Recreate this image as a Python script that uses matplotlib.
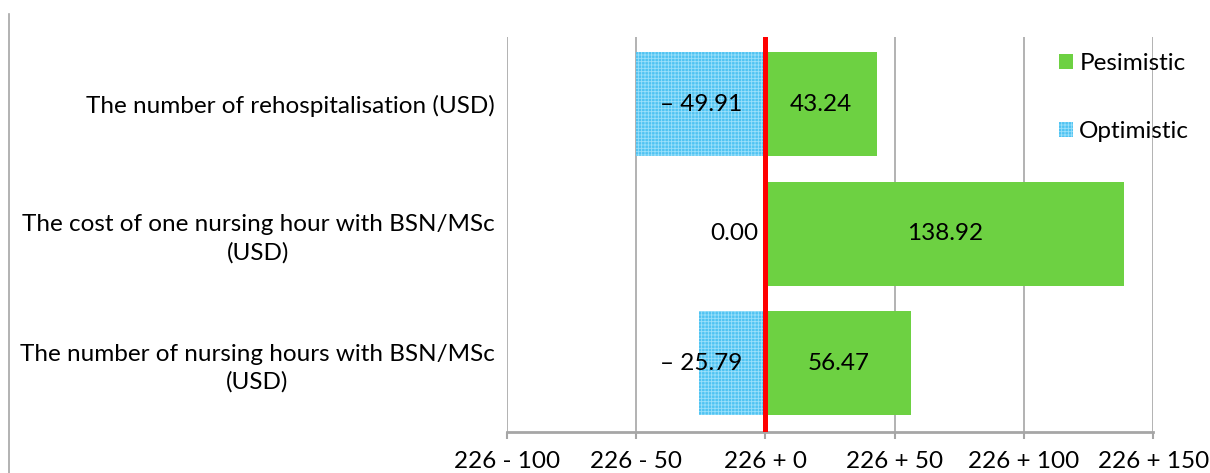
import numpy as np
import matplotlib.pyplot as plt
from matplotlib.lines import Line2D
from matplotlib.patches import Patch

plt.rcParams['font.family'] = ['Lato', 'DejaVu Sans']
plt.rcParams['hatch.linewidth'] = 0.6

categories = ["The number of nursing hours with BSN/MSc\n(USD)",
              "The cost of one nursing hour with BSN/MSc\n(USD)",
              "The number of rehospitalisation (USD)"]
optimistic = [-25.79, 0.00, -49.91]
pesimistic = [56.47, 138.92, 43.24]
base = 226
xticks = [-100, -50, 0, 50, 100, 150]

green = '#6dd142'
blue = '#4fc3f2'
grey = '#a6a6a6'
fs = 17.5

fig = plt.figure(figsize=(12.1, 4.73), dpi=100)
ax = fig.add_axes([0.419, 0.087, 0.534, 0.835])

y = np.arange(len(categories))
ax.barh(y, pesimistic, height=0.8, color=green, zorder=2)
ax.barh(y, optimistic, height=0.8, color=blue, hatch='+++++',
        edgecolor='#9be0fa', linewidth=0, zorder=2)
ax.axvline(0, color='#ff0000', lw=3.6, zorder=4)

for yi, v in zip(y, pesimistic):
    ax.text(v / 2, yi, f"{v:.2f}", ha='center', va='center', fontsize=fs, zorder=5)
for yi, v in zip(y, optimistic):
    txt = f"\u2013 {abs(v):.2f}" if v < 0 else f"{v:.2f}"
    x = v / 2 if abs(v) > 40 else v / 2 - 12
    ax.text(x, yi, txt, ha='center', va='center', fontsize=fs, zorder=5)

ax.set_xlim(-100, 150)
ax.set_ylim(-0.53, 2.52)
ax.set_xticks(xticks)
ax.set_xticklabels([f"{base} {'+' if t >= 0 else '-'} {abs(t)}" for t in xticks], fontsize=fs)
ax.set_yticks(y)
ax.set_yticklabels(categories, fontsize=fs, multialignment='center', linespacing=1.35)
ax.tick_params(axis='y', length=0, pad=9)
ax.tick_params(axis='x', length=5, color=grey, width=1.5, pad=9)
ax.grid(axis='x', color=grey, lw=1.2, zorder=0)
for s in ['left', 'top', 'right']:
    ax.spines[s].set_visible(False)
ax.spines['bottom'].set_color(grey)
ax.spines['bottom'].set_linewidth(2)

handles = [Patch(facecolor=green, linewidth=0),
           Patch(facecolor=blue, hatch='+++++', edgecolor='#9be0fa', linewidth=0)]
leg = ax.legend(handles, ['Pesimistic', 'Optimistic'], loc='upper left',
                bbox_to_anchor=(0.82, 1.015), frameon=False, fontsize=fs,
                handlelength=0.6, handleheight=0.6, handletextpad=0.25,
                labelspacing=1.95)

fig.add_artist(Line2D([0.0075, 0.0075], [0.0, 0.97], color=grey, lw=1.2))

fig.savefig('out.png')
